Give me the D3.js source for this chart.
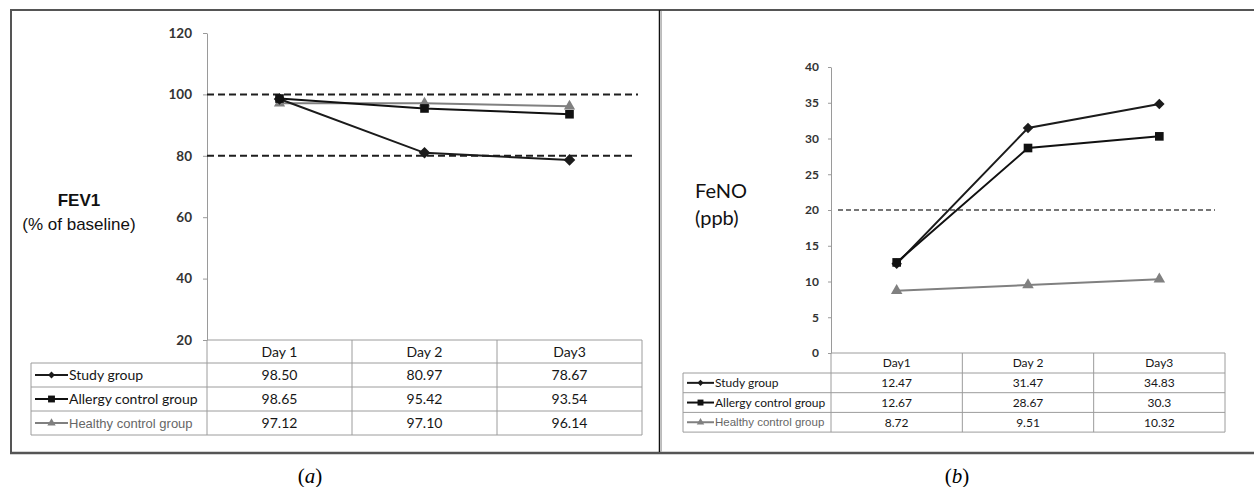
<!DOCTYPE html>
<html>
<head>
<meta charset="utf-8">
<script src="https://cdn.jsdelivr.net/npm/d3@7"></script>
<style>
  html, body { margin: 0; padding: 0; background: #fff; }
  svg { display: block; }
</style>
</head>
<body>
<svg id="chart" width="1254" height="487"></svg>
<script>
// ---------- DATA ----------
const seriesNames = ["Study group", "Allergy control group", "Healthy control group"];

const fevDays = ["Day 1", "Day 2", "Day3"];
const fevStudy   = [98.50, 80.97, 78.67];
const fevAllergy = [98.65, 95.42, 93.54];
const fevHealthy = [97.12, 97.10, 96.14];
const fevTicks   = [20, 40, 60, 80, 100, 120];
const fevRefLines = [100, 80];

const fenoDays = ["Day1", "Day 2", "Day3"];
const fenoStudy   = [12.47, 31.47, 34.83];
const fenoAllergy = [12.67, 28.67, 30.3];
const fenoHealthy = [8.72, 9.51, 10.32];
const fenoTicks   = [0, 5, 10, 15, 20, 25, 30, 35, 40];
const fenoRefLines = [20];

// ---------- DRAW ----------
const svg = d3.select("#chart");
svg.append("rect").attr("width", 1254).attr("height", 487).attr("fill", "#fff");

const seriesStyle = [
  { color: "#1b1b1b", marker: "diamond", textFont: "Lato", textColor: "#161616" },
  { color: "#111111", marker: "square",  textFont: "Lato", textColor: "#161616" },
  { color: "#808080", marker: "triangle", textFont: "Arial, 'Liberation Sans'", textColor: "#666" }
];

function markerPath(type, size) {
  if (type === "diamond") return d3.symbol().type(d3.symbolDiamond2).size(size)();
  if (type === "square") return d3.symbol().type(d3.symbolSquare2).size(size)();
  return d3.symbol().type(d3.symbolTriangle2).size(size)();
}

function drawPanel(cfg) {
  const g = svg.append("g");
  const x = d3.scaleBand().domain(cfg.days).range([cfg.plotLeft, cfg.plotRight]).paddingInner(0).paddingOuter(0);
  const y = d3.scaleLinear().domain(cfg.domain).range([cfg.plotBottom, cfg.plotTop]);

  // axis
  const axis = d3.axisLeft(y).tickValues(cfg.ticks).tickSize(cfg.tickSize).tickSizeOuter(0).tickPadding(cfg.tickPad);
  const ag = g.append("g").attr("transform", `translate(${cfg.plotLeft},0)`).call(axis);
  ag.select(".domain").attr("stroke", "#9a9a9a").attr("stroke-width", 1);
  ag.selectAll(".tick line").attr("stroke", "#9a9a9a");
  ag.selectAll(".tick text").attr("font-family", "Lato").attr("font-weight", 700)
    .attr("font-size", cfg.tickFont).attr("fill", "#333");

  // reference dashed lines
  cfg.refLines.forEach((v, i) => {
    g.append("line")
      .attr("x1", cfg.refX[i][0]).attr("x2", cfg.refX[i][1])
      .attr("y1", y(v)).attr("y2", y(v))
      .attr("stroke", cfg.refColor).attr("stroke-width", cfg.refWidth)
      .attr("stroke-dasharray", cfg.refDash);
  });

  // series
  const cx = d => x(d) + x.bandwidth() / 2;
  const order = [2, 0, 1];
  order.forEach(si => {
    const vals = cfg.values[si];
    const st = seriesStyle[si];
    const line = d3.line().x((d, i) => cx(cfg.days[i])).y(d => y(d));
    g.append("path").datum(vals).attr("d", line).attr("fill", "none")
      .attr("stroke", st.color).attr("stroke-width", cfg.lineWidth);
    g.selectAll(null).data(vals).enter().append("path")
      .attr("d", markerPath(st.marker, cfg.markerSize[st.marker]))
      .attr("transform", (d, i) => `translate(${cx(cfg.days[i])},${y(d)})`)
      .attr("fill", st.color);
  });

  // data table
  const tb = cfg.table;
  const rowsY = [cfg.plotBottom, cfg.plotBottom + tb.headH];
  for (let r = 0; r < 3; r++) rowsY.push(rowsY[rowsY.length - 1] + tb.rowH);
  const gridColor = "#9c9c9c";
  g.append("line").attr("x1", cfg.plotLeft).attr("x2", cfg.plotRight).attr("y1", rowsY[0]).attr("y2", rowsY[0]).attr("stroke", gridColor);
  for (let r = 1; r < rowsY.length; r++) {
    g.append("line").attr("x1", tb.legendLeft).attr("x2", cfg.plotRight)
      .attr("y1", rowsY[r]).attr("y2", rowsY[r]).attr("stroke", gridColor);
  }
  g.append("line").attr("x1", tb.legendLeft).attr("x2", tb.legendLeft).attr("y1", rowsY[1]).attr("y2", rowsY[4]).attr("stroke", gridColor);
  const colEdges = cfg.days.map(d => x(d)).concat([cfg.plotRight]);
  colEdges.forEach(cxE => {
    g.append("line").attr("x1", cxE).attr("x2", cxE).attr("y1", rowsY[0]).attr("y2", rowsY[4]).attr("stroke", gridColor);
  });
  cfg.days.forEach(d => {
    g.append("text").attr("x", cx(d)).attr("y", (rowsY[0] + rowsY[1]) / 2).attr("dy", "0.36em")
      .attr("text-anchor", "middle").attr("font-family", "Lato").attr("font-size", tb.font)
      .attr("fill", "#161616").text(d);
  });
  seriesNames.forEach((name, si) => {
    const st = seriesStyle[si];
    const ym = (rowsY[si + 1] + rowsY[si + 2]) / 2;
    g.append("line").attr("x1", tb.iconX[0]).attr("x2", tb.iconX[1]).attr("y1", ym).attr("y2", ym)
      .attr("stroke", st.color).attr("stroke-width", 2);
    g.append("path").attr("d", markerPath(st.marker, tb.iconSize[st.marker]))
      .attr("transform", `translate(${(tb.iconX[0] + tb.iconX[1]) / 2},${ym})`).attr("fill", st.color);
    g.append("text").attr("x", tb.iconX[1] + 1).attr("y", ym).attr("dy", "0.36em")
      .attr("font-family", st.textFont).attr("font-size", si === 2 ? tb.fontArial : tb.font)
      .attr("fill", st.textColor).text(name);
    cfg.values[si].forEach((v, i) => {
      g.append("text").attr("x", cx(cfg.days[i])).attr("y", ym).attr("dy", "0.36em")
        .attr("text-anchor", "middle").attr("font-family", "Lato").attr("font-size", tb.font)
        .attr("fill", "#161616").text(cfg.fmt(v));
    });
  });
  return g;
}

// Panel (a)
const ga = drawPanel({
  days: fevDays, values: [fevStudy, fevAllergy, fevHealthy], domain: [20, 120], ticks: fevTicks,
  plotLeft: 207, plotRight: 642, plotTop: 33, plotBottom: 340,
  tickSize: 4, tickPad: 11, tickFont: 13.5,
  refLines: fevRefLines, refX: [[207, 638], [207, 633]], refColor: "#1e1e1e", refWidth: 2, refDash: "7,4",
  lineWidth: 2, markerSize: { diamond: 85, square: 95, triangle: 90 },
  fmt: d3.format(".2f"),
  table: { headH: 23, rowH: 24, legendLeft: 31, iconX: [35, 68], font: 14, fontArial: 13,
           iconSize: { diamond: 30, square: 60, triangle: 50 } }
});
ga.append("text").attr("x", 79).attr("y", 206).attr("text-anchor", "middle")
  .attr("font-family", "Arial, 'Liberation Sans'").attr("font-weight", 700).attr("font-size", 17)
  .attr("fill", "#111").text("FEV1");
ga.append("text").attr("x", 79).attr("y", 230).attr("text-anchor", "middle")
  .attr("font-family", "Arial, 'Liberation Sans'").attr("font-size", 17)
  .attr("fill", "#111").text("(% of baseline)");

// Panel (b)
const gb = drawPanel({
  days: fenoDays, values: [fenoStudy, fenoAllergy, fenoHealthy], domain: [0, 40], ticks: fenoTicks,
  plotLeft: 831, plotRight: 1225, plotTop: 67, plotBottom: 353,
  tickSize: 3, tickPad: 9, tickFont: 12,
  refLines: fenoRefLines, refX: [[838, 1215]], refColor: "#4a4a4a", refWidth: 1.5, refDash: "5,3",
  lineWidth: 2, markerSize: { diamond: 70, square: 95, triangle: 95 },
  fmt: d => String(d),
  table: { headH: 20, rowH: 19.7, legendLeft: 683, iconX: [687, 714], font: 12, fontArial: 11.5,
           iconSize: { diamond: 24, square: 45, triangle: 40 } }
});
gb.append("text").attr("x", 695).attr("y", 198)
  .attr("font-family", "Lato").attr("font-size", 20).attr("fill", "#111").text("FeNO");
gb.append("text").attr("x", 695).attr("y", 225)
  .attr("font-family", "Lato").attr("font-size", 20).attr("fill", "#111").text("(ppb)");

// Frames
const fr = svg.append("g");
fr.append("line").attr("x1", 10).attr("x2", 1254).attr("y1", 10).attr("y2", 10).attr("stroke", "#555").attr("stroke-width", 2);
fr.append("line").attr("x1", 11).attr("x2", 11).attr("y1", 9).attr("y2", 454).attr("stroke", "#555").attr("stroke-width", 2);
fr.append("line").attr("x1", 10).attr("x2", 1254).attr("y1", 453).attr("y2", 453).attr("stroke", "#555").attr("stroke-width", 2.5);
fr.append("line").attr("x1", 659.5).attr("x2", 659.5).attr("y1", 10).attr("y2", 452).attr("stroke", "#111").attr("stroke-width", 1.5);
fr.append("line").attr("x1", 661.5).attr("x2", 661.5).attr("y1", 11).attr("y2", 452).attr("stroke", "#bbb").attr("stroke-width", 1);

// Captions
function caption(xc, letter) {
  const t = svg.append("text").attr("x", xc).attr("y", 483).attr("text-anchor", "middle")
    .attr("font-family", "'Liberation Serif', 'Times New Roman', serif").attr("font-size", 21).attr("fill", "#000");
  t.append("tspan").text("(");
  t.append("tspan").attr("font-style", "italic").text(letter);
  t.append("tspan").text(")");
}
caption(310, "a");
caption(957, "b");
</script>
</body>
</html>
